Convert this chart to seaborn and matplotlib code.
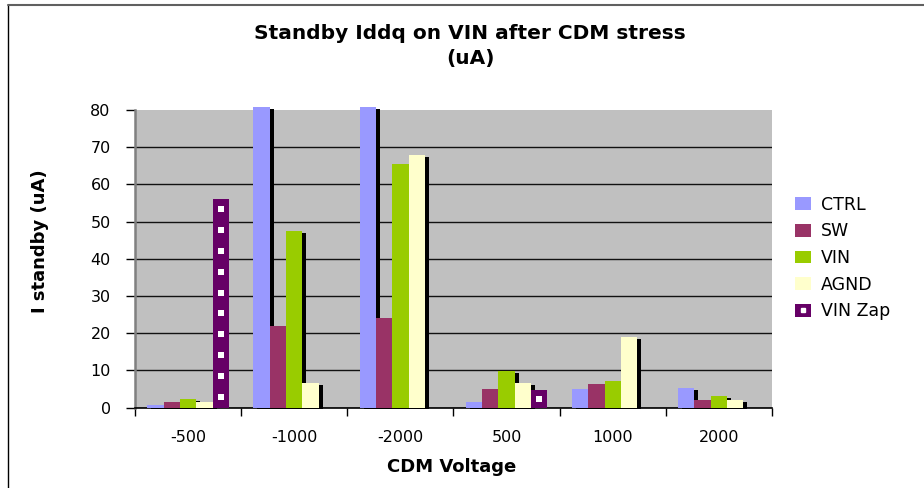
import numpy as np
import pandas as pd
import seaborn as sns
import matplotlib
matplotlib.use("Agg")
import matplotlib.pyplot as plt
import matplotlib.patheffects as pe
from matplotlib.patches import Patch, Rectangle
from matplotlib.lines import Line2D
from matplotlib.legend_handler import HandlerBase

# CDM stress voltages (x categories)
voltages = ["-500", "-1000", "-2000", "500", "1000", "2000"]
series = ["CTRL", "SW", "VIN", "AGND", "VIN Zap"]

# Standby current (uA) per series; the -1000/-2000 CTRL parts run off the 80 uA scale
ctrl = [0.8, 80.8, 80.8, 1.4, 5.1, 5.3]
sw = [1.6, 22.0, 24.0, 5.1, 6.4, 1.9]
vin = [2.2, 47.5, 65.4, 9.9, 7.1, 3.0]
agnd = [1.4, 6.7, 67.8, 6.6, 18.9, 1.9]
vin_zap = [56.2, 0.0, 0.0, 4.8, 0.0, 0.0]

colors = ["#9999FF", "#993366", "#99CC00", "#FFFFCC", "#660066"]

df = pd.DataFrame({
    "voltage": voltages * 5,
    "series": [s for s in series for _ in voltages],
    "value": ctrl + sw + vin + agnd + vin_zap,
})

sns.set_theme(style="white")
plt.rcParams["font.family"] = ["DejaVu Sans"]
for key in ["text.color", "axes.labelcolor", "xtick.color", "ytick.color"]:
    plt.rcParams[key] = "black"

fig = plt.figure(figsize=(9.24, 4.88), dpi=100)
fig.patch.set_facecolor("white")
ax = fig.add_axes([135 / 924, 1 - 407.5 / 488, 637 / 924, 297.5 / 488])
ax.set_facecolor("#C0C0C0")

sns.barplot(data=df, x="voltage", y="value", hue="series", order=voltages,
            hue_order=series, palette=colors, saturation=1, width=0.77,
            linewidth=0, errorbar=None, legend=False, ax=ax, zorder=3)

# drop shadow on the solid series, clipped bars allowed to poke above the frame
shadow = [pe.SimplePatchShadow(offset=(2.9, -1.4), shadow_rgbFace="black", alpha=1.0),
          pe.Normal()]
for i, cont in enumerate(ax.containers):
    for p in cont:
        p.set_clip_on(False)
        if i < 4:
            p.set_path_effects(shadow)

# white square pattern on the VIN Zap bars
for p in ax.containers[4]:
    h = p.get_height()
    if h <= 0:
        continue
    n = max(1, int(round(h / 5.6)))
    ys = (np.arange(n) + 0.5) * h / n
    xs = np.full(n, p.get_x() + p.get_width() / 2)
    ax.scatter(xs, ys, marker="s", s=13, color="white", linewidths=0, zorder=4)

ax.set_ylim(0, 80)
ax.set_xlim(-0.5, len(voltages) - 0.5)
ax.set_yticks(np.arange(0, 81, 10))
ax.yaxis.grid(True, color="#111111", linewidth=1.0)
ax.get_ygridlines()[-1].set_visible(False)
ax.set_axisbelow(True)

ax.set_xticks(np.arange(len(voltages)))
ax.set_xticklabels(voltages)
ax.set_xticks(np.arange(-0.5, len(voltages)), minor=True)
ax.tick_params(axis="x", which="major", length=0, pad=16, labelsize=11.5)
ax.tick_params(axis="x", which="minor", length=6, width=1, direction="out",
               color="black", bottom=True)
ax.tick_params(axis="y", length=6.5, width=1, direction="out", pad=11, labelsize=11.5,
               color="black", left=True)
ax.set_xlabel("")
ax.set_ylabel("")

for s in ["top", "right"]:
    ax.spines[s].set_visible(False)
ax.spines["left"].set_color("#808080")
ax.spines["left"].set_linewidth(1.8)
ax.spines["bottom"].set_color("black")
ax.spines["bottom"].set_linewidth(1.2)


class ZapHandler(HandlerBase):
    """Legend key: purple swatch with the white square pattern."""

    def create_artists(self, legend, orig_handle, xdescent, ydescent, width, height,
                       fontsize, trans):
        rect = Rectangle((-xdescent, -ydescent), width, height,
                         facecolor=orig_handle.get_facecolor(), edgecolor="none",
                         transform=trans)
        dot = Line2D([-xdescent + width / 2], [-ydescent + height / 2], marker="s",
                     markersize=3.4, color="white", linestyle="none", transform=trans)
        return [rect, dot]


handles = [Patch(facecolor=c, edgecolor="none") for c in colors]
ax.legend(handles, series, loc="center left", bbox_to_anchor=(788 / 924, 1 - 258 / 488),
          bbox_transform=fig.transFigure, frameon=False, fontsize=12.5,
          handlelength=0.9, handleheight=0.75, handletextpad=0.6, labelspacing=0.5,
          borderaxespad=0, handler_map={handles[4]: ZapHandler()})

fig.text(470 / 924, 1 - 46 / 488, "Standby Iddq on VIN after CDM stress\n(uA)",
         ha="center", va="center", multialignment="center", fontsize=14.5,
         fontweight="bold", linespacing=1.4, color="black")
fig.text(452 / 924, 1 - 467 / 488, "CDM Voltage", ha="center", va="center",
         fontsize=13, fontweight="bold", color="black")
fig.text(40 / 924, 1 - 241 / 488, "I standby (uA)", ha="center", va="center",
         rotation=90, fontsize=13, fontweight="bold", color="black")

# outer chart border (left and top edges)
fig.add_artist(Line2D([8 / 924, 8 / 924], [0, 1 - 5 / 488], transform=fig.transFigure,
                      color="black", linewidth=1))
fig.add_artist(Line2D([8 / 924, 1], [1 - 5 / 488, 1 - 5 / 488], transform=fig.transFigure,
                      color="#606060", linewidth=1.5))

fig.savefig("out.png", dpi=100)
